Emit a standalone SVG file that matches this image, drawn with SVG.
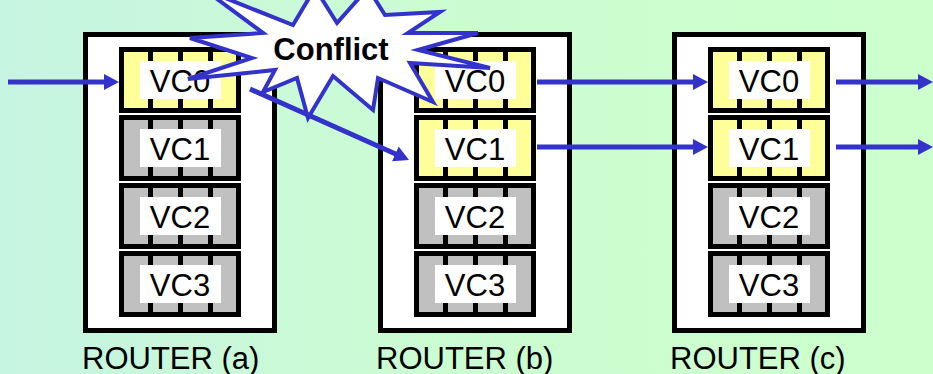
<svg xmlns="http://www.w3.org/2000/svg" xmlns:xlink="http://www.w3.org/1999/xlink" width="933" height="374" viewBox="0 0 933 374">
<style>
.box{fill:#fff;stroke:#000;stroke-width:5}
.vc{font-family:"Liberation Sans",Arial,sans-serif;font-size:31px;text-anchor:middle;fill:#000}
.lbl{font-family:"Liberation Sans",Arial,sans-serif;font-size:31px;fill:#000}
.conn{stroke:#3333cc;stroke-width:5;fill:none;marker-end:url(#ah)}
.star{fill:#fff;stroke:#3333cc;stroke-width:4;stroke-linejoin:miter}
.startxt{font-family:"Liberation Sans",Arial,sans-serif;font-size:31px;font-weight:bold;text-anchor:middle;fill:#000}
</style>
<defs>
<linearGradient id="bg" x1="0" y1="0" x2="1" y2="0">
<stop offset="0" stop-color="#c6f4e2"/>
<stop offset="0.45" stop-color="#cbfcd2"/>
<stop offset="1" stop-color="#ccffcc"/>
</linearGradient>
<marker id="ah" markerUnits="userSpaceOnUse" markerWidth="16" markerHeight="18" viewBox="0 0 16 18" refX="4" refY="9" orient="auto">
<path d="M0,1 L15,9 L0,17 z" fill="#3333cc"/>
</marker>
<g id="vcy">
<rect x="2.5" y="2.5" width="117" height="61" fill="#ffff99" stroke="#000" stroke-width="5"/>
<rect x="29" y="2" width="5" height="62" fill="#000"/>
<rect x="59" y="2" width="5" height="62" fill="#000"/>
<rect x="89" y="2" width="5" height="62" fill="#000"/>
<rect x="21" y="14" width="81" height="38" fill="#fff"/>
</g>
<g id="vcg">
<rect x="2.5" y="2.5" width="117" height="61" fill="#c0c0c0" stroke="#000" stroke-width="5"/>
<rect x="29" y="2" width="5" height="62" fill="#000"/>
<rect x="59" y="2" width="5" height="62" fill="#000"/>
<rect x="89" y="2" width="5" height="62" fill="#000"/>
<rect x="21" y="14" width="81" height="38" fill="#fff"/>
</g>
</defs>
<rect x="0" y="0" width="933" height="374" fill="url(#bg)"/>

<g id="router-a">
<rect class="box" x="85.5" y="34.5" width="189" height="296"/>
<use xlink:href="#vcy" href="#vcy" x="119" y="47"/><text class="vc" x="180" y="92">VC0</text>
<use xlink:href="#vcg" href="#vcg" x="119" y="115"/><text class="vc" x="180" y="160">VC1</text>
<use xlink:href="#vcg" href="#vcg" x="119" y="183"/><text class="vc" x="180" y="228">VC2</text>
<use xlink:href="#vcg" href="#vcg" x="119" y="251"/><text class="vc" x="180" y="296">VC3</text>
<text class="lbl" x="82" y="369">ROUTER (a)</text>
</g>

<g id="router-b" transform="translate(295,0)">
<rect class="box" x="85.5" y="34.5" width="189" height="296"/>
<use xlink:href="#vcy" href="#vcy" x="119" y="47"/><text class="vc" x="180" y="92">VC0</text>
<use xlink:href="#vcy" href="#vcy" x="119" y="115"/><text class="vc" x="180" y="160">VC1</text>
<use xlink:href="#vcg" href="#vcg" x="119" y="183"/><text class="vc" x="180" y="228">VC2</text>
<use xlink:href="#vcg" href="#vcg" x="119" y="251"/><text class="vc" x="180" y="296">VC3</text>
<text class="lbl" x="81" y="369">ROUTER (b)</text>
</g>

<g id="router-c" transform="translate(589,0)">
<rect class="box" x="85.5" y="34.5" width="189" height="296"/>
<use xlink:href="#vcy" href="#vcy" x="119" y="47"/><text class="vc" x="180" y="92">VC0</text>
<use xlink:href="#vcy" href="#vcy" x="119" y="115"/><text class="vc" x="180" y="160">VC1</text>
<use xlink:href="#vcg" href="#vcg" x="119" y="183"/><text class="vc" x="180" y="228">VC2</text>
<use xlink:href="#vcg" href="#vcg" x="119" y="251"/><text class="vc" x="180" y="296">VC3</text>
<text class="lbl" x="81" y="369">ROUTER (c)</text>
</g>

<g id="conflict">
<polygon class="star" points="205,-10 263,33 190,38 252,58 188,79 275,70 263,92 297,78 308,118 333,76 373,110 378,78 433,102 410,63 490,68 418,50 478,33 408,33 440,12 385,15 368,-12 337,23 315,-12 293,25"/>
<text class="startxt" x="331" y="60">Conflict</text>
</g>

<g id="connectors">
<line class="conn" x1="8" y1="82" x2="108" y2="82"/>
<line class="conn" x1="250" y1="89" x2="399" y2="155.5"/>
<line class="conn" x1="537" y1="82" x2="697" y2="82"/>
<line class="conn" x1="537" y1="147" x2="697" y2="147"/>
<line class="conn" x1="836" y1="82" x2="922" y2="82"/>
<line class="conn" x1="836" y1="147" x2="922" y2="147"/>
</g>
</svg>
